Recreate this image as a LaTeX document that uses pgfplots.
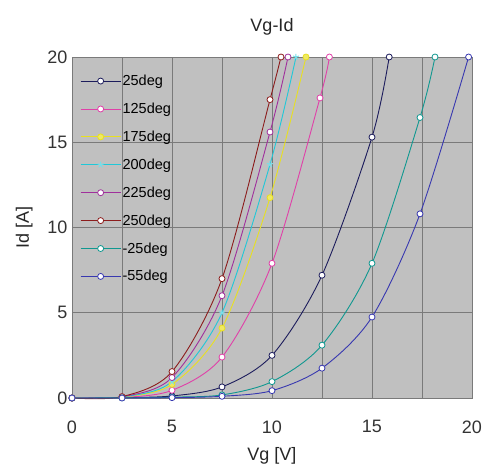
\documentclass[border=0pt]{standalone}
\usepackage{pgfplots}
\pgfplotsset{compat=1.18}
\usepackage{fontspec}
\setmainfont{Liberation Sans}
\definecolor{bg}{HTML}{C0C0C0}
\definecolor{gridc}{HTML}{7A7A7A}
\definecolor{c25}{HTML}{1C1C5C}
\definecolor{c125}{HTML}{E040A8}
\definecolor{c175}{HTML}{E8E020}
\definecolor{c200}{HTML}{20C8D8}
\definecolor{c225}{HTML}{A0309C}
\definecolor{c250}{HTML}{8C1C1C}
\definecolor{cm25}{HTML}{109890}
\definecolor{cm55}{HTML}{3838B0}
\begin{document}
\begin{tikzpicture}
\begin{axis}[
  at={(0,0)}, anchor=south west,
  scale only axis, width=400pt, height=341pt,
  xmin=0, xmax=20, ymin=0, ymax=20,
  xtick={0,5,10,15,20}, ytick={0,5,10,15,20},
  minor xtick={2.5,7.5,12.5,17.5},
  grid=both,
  major grid style={gridc, line width=0.7pt},
  minor grid style={gridc, line width=0.7pt},
  axis line style={gridc, line width=0.8pt},
  tick style={draw=none},
  axis background/.style={fill=bg},
  tick label style={font=\fontsize{18}{20}\selectfont, text=black!80},
  /pgf/number format/assume math mode=true,
  xticklabel style={yshift=-19pt},
  yticklabel style={xshift=-1pt},
  title={Vg-Id}, title style={font=\fontsize{18}{20}\selectfont, text=black!85, yshift=12pt},
  xlabel={Vg [V]}, ylabel={Id [A]},
  label style={font=\fontsize{18}{20}\selectfont, text=black!85},
  xlabel style={yshift=-7pt},
  ylabel style={yshift=8pt},
  clip=false,
  legend style={draw=none, fill=none, at={(0.02,0.952)}, anchor=north west,
    font=\fontsize{14.5}{16}\selectfont, row sep=12.9pt, inner sep=0pt,
    nodes={inner sep=1.5pt}},
  legend cell align=left,
  legend image code/.code={\draw[mark repeat=2,mark phase=2,#1] plot coordinates {(0pt,0pt)(20pt,0pt)(40pt,0pt)};},
  every axis plot/.append style={line width=0.9pt, smooth, tension=0.5},
]
\addplot[c25, mark=*, mark options={fill=white, draw=c25, line width=0.8pt, scale=1.5}] coordinates {(0,0)(2.5,0.02)(5,0.12)(7.5,0.65)(10,2.5)(12.5,7.2)(15,15.3)(15.86,20)};
\addlegendentry{25deg}
\addplot[c125, mark=*, mark options={fill=white, draw=c125, line width=0.8pt, scale=1.5}] coordinates {(0,0)(2.5,0.03)(5,0.45)(7.5,2.4)(10,7.9)(12.4,17.6)(12.87,20)};
\addlegendentry{125deg}
\addplot[c175, mark=*, mark options={fill=c175!70!white, draw=c175, line width=0.8pt, scale=1.5}] coordinates {(0,0)(2.5,0.05)(5,0.8)(7.5,4.1)(9.9,11.75)(11.7,20)};
\addlegendentry{175deg}
\addplot[c200, mark=star, mark options={draw=c200!60!white, line width=1pt, scale=1.6}] coordinates {(0,0)(2.5,0.06)(5,0.96)(7.5,5.0)(9.9,13.7)(11.2,20)};
\addlegendentry{200deg}
\addplot[c225, mark=*, mark options={fill=white, draw=c225, line width=0.8pt, scale=1.5}] coordinates {(0,0)(2.5,0.07)(5,1.2)(7.5,6.0)(9.9,15.6)(10.8,20)};
\addlegendentry{225deg}
\addplot[c250, mark=*, mark options={fill=white, draw=c250, line width=0.8pt, scale=1.5}] coordinates {(0,0)(2.5,0.08)(5,1.55)(7.5,7.0)(9.9,17.5)(10.45,20)};
\addlegendentry{250deg}
\addplot[cm25, mark=*, mark options={fill=white, draw=cm25, line width=0.8pt, scale=1.5}] coordinates {(0,0)(2.5,0.01)(5,0.05)(7.5,0.18)(10,0.96)(12.5,3.1)(15,7.9)(17.4,16.45)(18.15,20)};
\addlegendentry{-25deg}
\addplot[cm55, mark=*, mark options={fill=white, draw=cm55, line width=0.8pt, scale=1.5}] coordinates {(0,0)(2.5,0.0)(5,0.02)(7.5,0.1)(10,0.43)(12.5,1.75)(15,4.75)(17.4,10.8)(19.83,20)};
\addlegendentry{-55deg}
\end{axis}
\useasboundingbox (-72pt,-71pt) rectangle (416pt,398pt);
\end{tikzpicture}
\end{document}
